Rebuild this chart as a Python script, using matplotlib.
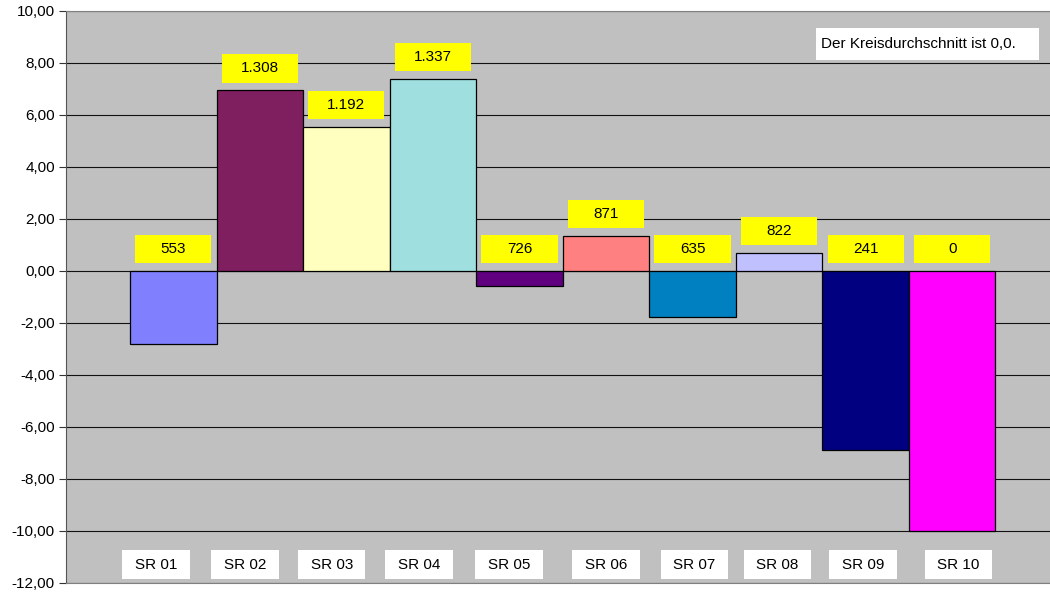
import numpy as np
import matplotlib.pyplot as plt
from matplotlib.patches import Rectangle
from matplotlib.ticker import FuncFormatter, MultipleLocator

plt.rcParams['font.family'] = ['Liberation Sans', 'DejaVu Sans']

# data
categories = ['SR 01', 'SR 02', 'SR 03', 'SR 04', 'SR 05',
              'SR 06', 'SR 07', 'SR 08', 'SR 09', 'SR 10']
values = [-2.8, 6.95, 5.55, 7.4, -0.57, 1.35, -1.75, 0.7, -6.88, -10.0]
counts = [553, 1308, 1192, 1337, 726, 871, 635, 822, 241, 0]
note = 'Der Kreisdurchschnitt ist 0,0.'

colors = ['#8080FF', '#7F1F5F', '#FFFFC0', '#A0DFE0', '#600080',
          '#FF8080', '#0080C0', '#C0C0FF', '#000080', '#FF00FF']
# small shifts of the category boxes relative to bar centres
label_shift = [-0.2, -0.17, -0.17, -0.16, -0.12, 0.0, 0.02, -0.02, -0.03, 0.07]

x = np.arange(len(categories))

fig = plt.figure(figsize=(10.5, 5.93), dpi=100)
ax = fig.add_axes([66 / 1050, 1 - 583 / 593, 1 - 66 / 1050, (583 - 11) / 593])
ax.set_facecolor('#C0C0C0')

ax.set_ylim(-12, 10)
ax.set_xlim(-1.24, 10.13)
ax.yaxis.set_major_locator(MultipleLocator(2))
ax.yaxis.set_major_formatter(FuncFormatter(lambda v, p: f'{v:.2f}'.replace('.', ',')))
ax.grid(axis='y', color='#111111', linewidth=0.8)
ax.set_axisbelow(True)
ax.set_xticks([])
ax.tick_params(axis='y', length=5, width=0.8, color='#333333', labelsize=11, pad=3)

ax.spines['right'].set_visible(False)
ax.spines['left'].set_color('#555555')
ax.spines['top'].set_color('#808080')
ax.spines['bottom'].set_color('#808080')

ax.bar(x, values, width=1.0, color=colors, edgecolor='#000000', linewidth=0.9, zorder=3)

# value boxes
bw, bh = 0.88, 1.08
for xi, v, c in zip(x, values, counts):
    yb = max(v, 0) + 0.3
    ax.add_patch(Rectangle((xi - bw / 2, yb), bw, bh, facecolor='#FFFF00',
                           edgecolor='none', zorder=4))
    ax.text(xi, yb + bh / 2, f'{c:,}'.replace(',', '.'), ha='center', va='center',
            fontsize=11, zorder=5)

# category boxes
lw, lh = 0.78, 1.08
for xi, name, sh in zip(x, categories, label_shift):
    xc = xi + sh
    ax.add_patch(Rectangle((xc - lw / 2, -11.29 - lh / 2), lw, lh, facecolor='white',
                           edgecolor='none', zorder=4))
    ax.text(xc, -11.29, name, ha='center', va='center', fontsize=11, zorder=5)

# note box
ax.add_patch(Rectangle((0.762, 0.914), 0.227, 0.056, transform=ax.transAxes,
                       facecolor='white', edgecolor='none', zorder=6))
ax.text(0.767, 0.942, note, transform=ax.transAxes, fontsize=11, ha='left', va='center',
        zorder=7)

fig.savefig('out.png', dpi=100)
